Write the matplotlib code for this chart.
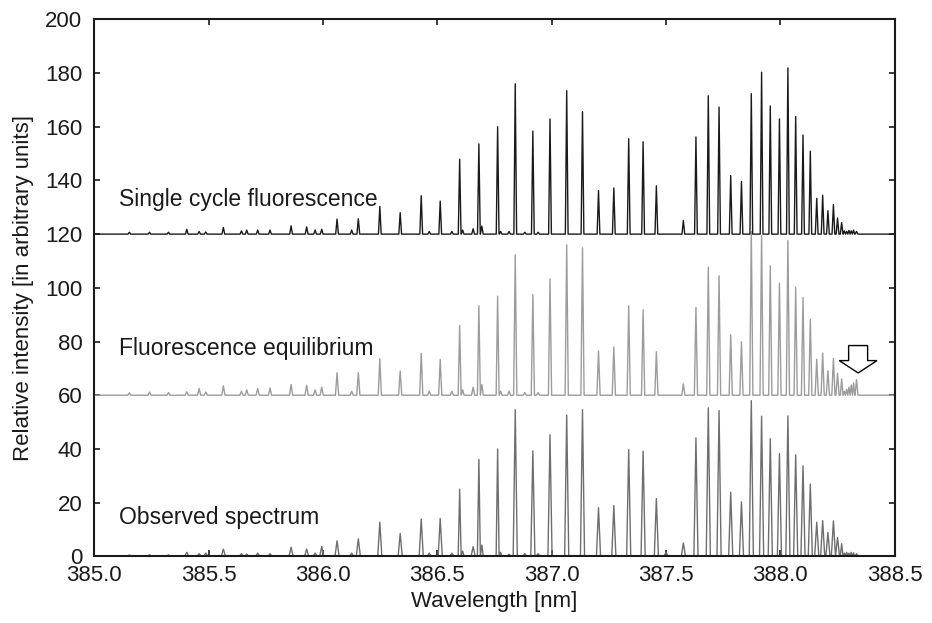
import numpy as np
import matplotlib
matplotlib.use('Agg')
import matplotlib.pyplot as plt
from matplotlib.patches import FancyArrow

plt.rcParams['font.family'] = ['Liberation Sans', 'DejaVu Sans']

# line positions [nm], shared by the three spectra
line_nm = [385.154, 385.242, 385.325, 385.405, 385.459, 385.488, 385.565, 385.644,
           385.667, 385.715, 385.769, 385.861, 385.929, 385.966, 385.995, 386.062,
           386.126, 386.155, 386.249, 386.338, 386.430, 386.465, 386.513, 386.564,
           386.598, 386.611, 386.657, 386.682, 386.695, 386.764, 386.777, 386.814,
           386.841, 386.883, 386.918, 386.941, 386.993, 387.066, 387.135, 387.205,
           387.272, 387.337, 387.400, 387.458, 387.500, 387.576, 387.631, 387.685,
           387.732, 387.783, 387.830, 387.873, 387.918, 387.956, 387.996, 388.033,
           388.067, 388.099, 388.131, 388.159, 388.185, 388.208, 388.232, 388.250,
           388.268, 388.280, 388.290, 388.300, 388.310, 388.320, 388.333]

# single cycle fluorescence (drawn on top of offset 120)
single_cycle = [0.7, 0.7, 0.7, 1.8, 1.0, 0.8, 2.5, 1.2,
                1.5, 1.5, 1.5, 3.1, 2.7, 1.5, 1.8, 5.6,
                1.5, 5.7, 10.3, 8.0, 14.3, 1.0, 12.3, 1.0,
                27.9, 1.5, 2.0, 33.6, 3.0, 40.0, 1.0, 1.0,
                56.0, 0.7, 38.4, 0.7, 42.9, 53.4, 45.6, 16.2,
                17.2, 35.5, 34.4, 18.0, 0.0, 5.1, 36.2, 51.5,
                47.3, 21.8, 19.6, 52.3, 60.3, 47.7, 42.9, 61.9,
                43.8, 36.9, 30.9, 13.3, 14.5, 8.7, 11.0, 6.0,
                4.3, 1.2, 1.0, 1.4, 1.2, 1.5, 1.0]

# fluorescence equilibrium (offset 60)
equilibrium = [0.9, 1.2, 1.0, 1.3, 2.5, 1.2, 3.5, 1.5,
               2.0, 2.5, 2.7, 4.0, 3.7, 2.0, 3.0, 8.4,
               1.5, 8.4, 13.6, 9.0, 15.6, 1.5, 13.3, 1.5,
               26.0, 2.0, 3.0, 33.3, 4.0, 36.9, 1.5, 1.5,
               52.3, 1.0, 37.5, 1.0, 43.4, 56.0, 54.9, 16.5,
               18.0, 33.3, 31.8, 16.2, 0.0, 4.2, 32.7, 47.7,
               44.5, 22.5, 19.9, 61.0, 59.5, 48.2, 41.7, 57.6,
               40.2, 36.4, 28.3, 13.4, 15.7, 9.1, 13.7, 8.2,
               6.1, 1.5, 2.2, 3.0, 3.8, 4.6, 5.8]

# observed spectrum (offset 0)
observed = [0.5, 0.6, 0.5, 1.5, 1.0, 1.2, 2.7, 1.0,
            0.8, 1.2, 1.0, 3.4, 2.7, 1.2, 3.7, 5.8,
            1.2, 6.5, 12.7, 8.5, 13.9, 1.2, 14.1, 1.2,
            25.0, 2.0, 3.6, 36.1, 4.2, 40.0, 1.5, 0.8,
            54.6, 1.0, 39.3, 1.0, 45.3, 52.6, 54.6, 18.1,
            18.9, 39.7, 39.2, 21.5, 1.5, 5.0, 44.1, 55.3,
            54.3, 23.9, 20.3, 58.0, 52.2, 43.8, 38.3, 52.3,
            37.8, 33.7, 26.9, 12.7, 13.3, 8.9, 13.2, 7.0,
            4.7, 1.2, 1.5, 1.2, 1.5, 1.3, 1.0]

offsets = [120, 60, 0]
labels = ['Single cycle fluorescence', 'Fluorescence equilibrium', 'Observed spectrum']
label_y = [133, 77.5, 14.5]
colors = ['#1a1a1a', '#9c9c9c', '#6e6e6e']
half_widths = [0.006, 0.007, 0.009]

xmin, xmax = 385.0, 388.5


def stick_profile(pos, h, hw):
    pos = np.asarray(pos)
    h = np.asarray(h)
    xs = [xmin]
    ys = [0.0]
    for i in range(len(pos)):
        left = pos[i] - pos[i - 1] if i > 0 else 1.0
        right = pos[i + 1] - pos[i] if i < len(pos) - 1 else 1.0
        w = min(hw, 0.5 * left, 0.5 * right)
        xs += [pos[i] - w, pos[i], pos[i] + w]
        ys += [0.0, h[i], 0.0]
    xs.append(xmax)
    ys.append(0.0)
    return np.array(xs), np.array(ys)


fig = plt.figure(figsize=(9.32, 6.23), dpi=100)
ax = fig.add_axes([0.101, 0.107, 0.859, 0.862])

spectra = [single_cycle, equilibrium, observed]
for k in [2, 1, 0]:
    x, y = stick_profile(line_nm, spectra[k], half_widths[k])
    ax.plot(x, y + offsets[k], color=colors[k], lw=1.0)
    ax.text(385.11, label_y[k], labels[k], fontsize=16.5, va='center', ha='left', color='#1a1a1a')

# arrow marking the band head region
ax.add_patch(FancyArrow(388.34, 78.5, 0, -10.2, width=0.083, head_width=0.165,
                        head_length=4.6, length_includes_head=True,
                        facecolor='white', edgecolor='black', lw=1.0, zorder=5))

ax.set_xlim(xmin, xmax)
ax.set_ylim(0, 200)
ax.set_xticks(np.arange(385.0, 388.51, 0.5))
ax.set_xticklabels(['%.1f' % v for v in np.arange(385.0, 388.51, 0.5)])
ax.set_yticks(np.arange(0, 201, 20))
ax.tick_params(direction='in', top=True, right=True, length=4, width=1.2, labelsize=16, colors='#1a1a1a')
ax.tick_params(axis='x', pad=6.5)
ax.tick_params(axis='y', pad=8.5)
for s in ax.spines.values():
    s.set_linewidth(1.5)
    s.set_color('#1a1a1a')
ax.set_xlabel('Wavelength [nm]', fontsize=16, color='#1a1a1a', labelpad=3)
ax.set_ylabel('Relative intensity [in arbitrary units]', fontsize=16, color='#1a1a1a', labelpad=8)

fig.savefig('out.png', dpi=100)
